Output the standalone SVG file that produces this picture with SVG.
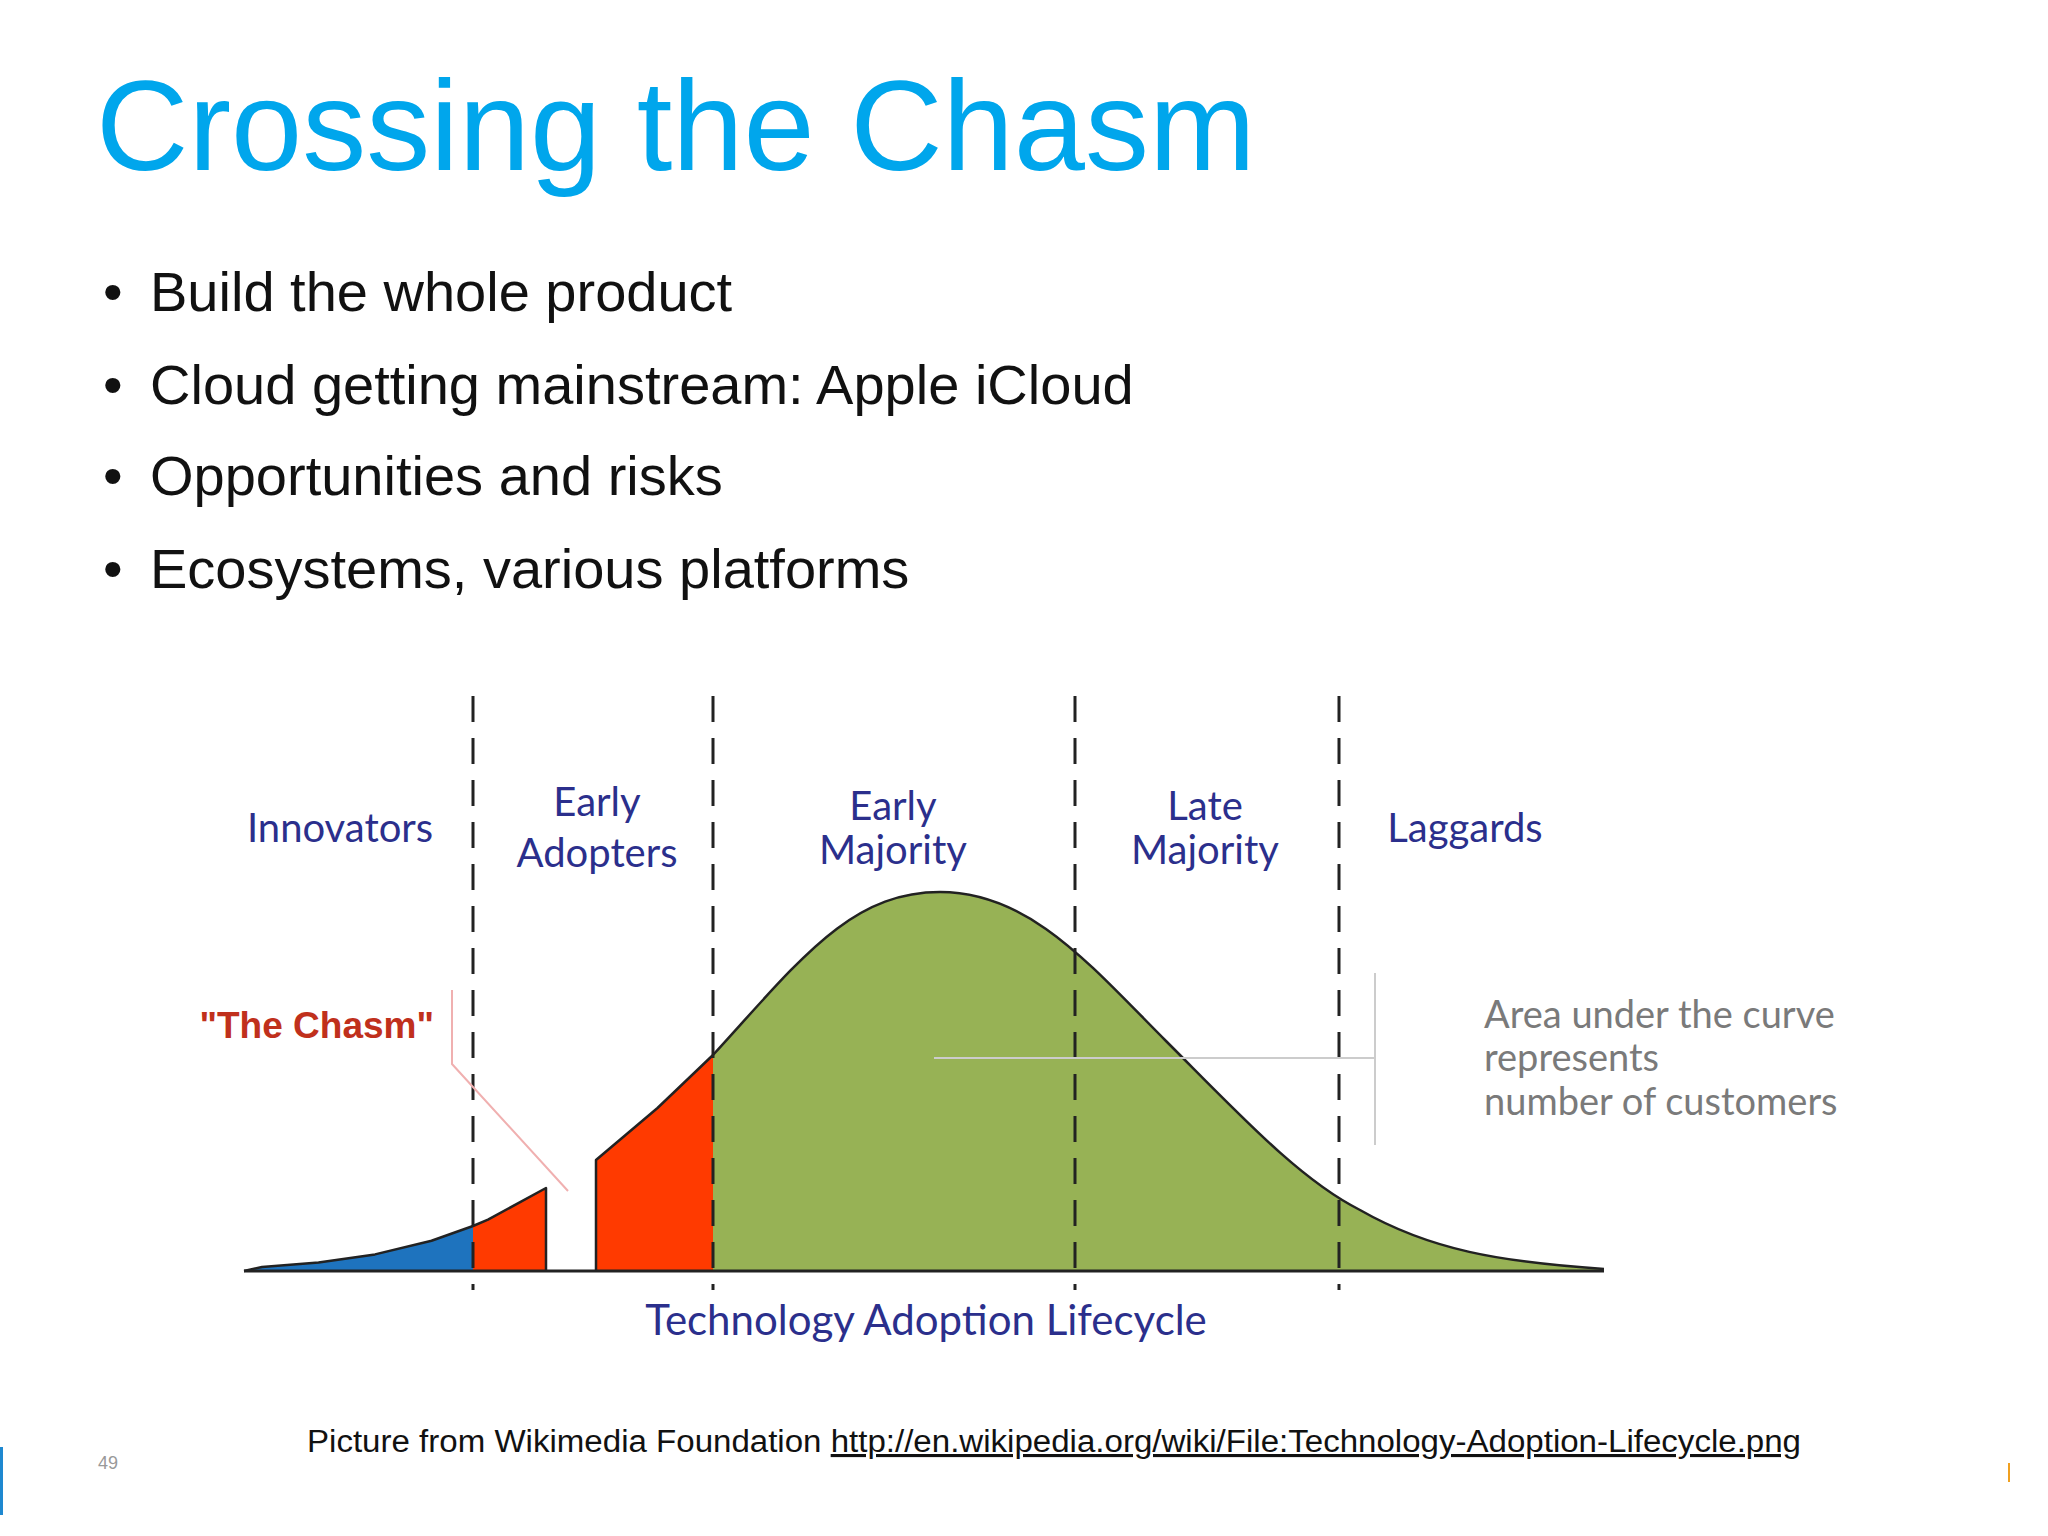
<svg xmlns="http://www.w3.org/2000/svg" width="2048" height="1536" viewBox="0 0 2048 1536">
<style>
.b{font-family:"Liberation Sans",Arial,sans-serif;font-size:56px;fill:#111}
.l{font-family:"Lato","Liberation Sans",sans-serif;font-size:40px;fill:#2b2f8c;text-anchor:middle}
.g{font-family:"Lato","Liberation Sans",sans-serif;font-size:38px;fill:#7a7a7a}
.d{stroke:#222;stroke-width:3;stroke-dasharray:26 16;fill:none}
</style>
<rect width="2048" height="1536" fill="#fff"/>
<text x="96" y="170" font-family="Liberation Sans,Arial,sans-serif" font-size="128" fill="#00a6ec">Crossing the Chasm</text>
<g class="b">
<text x="103" y="311">•</text><text x="150" y="311">Build the whole product</text>
<text x="103" y="404">•</text><text x="150" y="404">Cloud getting mainstream: Apple iCloud</text>
<text x="103" y="495">•</text><text x="150" y="495">Opportunities and risks</text>
<text x="103" y="588">•</text><text x="150" y="588">Ecosystems, various platforms</text>
</g>
<g id="chart">
<path d="M244,1271 L262,1267 L318.5,1262.4 L375,1254.4 L431.5,1240.8 L473,1226 L473,1271 Z" fill="#1e73be"/>
<path d="M473,1226 L488,1219.7 L546,1188 L546,1271 L473,1271 Z" fill="#ff3a00"/>
<path d="M596,1160 L657.5,1108 L713,1055 L713,1271 L596,1271 Z" fill="#ff3a00"/>
<path d="M713,1055 C800,960 850,892 940,892 C1030,892 1090,965 1166,1041 C1240,1115 1300,1180 1360,1210 C1430,1250 1500,1262 1604,1269 L1604,1271 L713,1271 Z" fill="#97b255"/>
<path d="M244,1271 L262,1267 L318.5,1262.4 L375,1254.4 L431.5,1240.8 L473,1226 L488,1219.7 L546,1188 L546,1271 M596,1271 L596,1160 L657.5,1108 L713,1055 C800,960 850,892 940,892 C1030,892 1090,965 1166,1041 C1240,1115 1300,1180 1360,1210 C1430,1250 1500,1262 1604,1269" fill="none" stroke="#222" stroke-width="2.5" stroke-linejoin="round"/>
<line x1="244" y1="1271" x2="1604" y2="1271" stroke="#222" stroke-width="3"/>
</g>
<g id="dividers">
<line class="d" x1="473" y1="696" x2="473" y2="1290"/>
<line class="d" x1="713" y1="696" x2="713" y2="1290"/>
<line class="d" x1="1075" y1="696" x2="1075" y2="1290"/>
<line class="d" x1="1339" y1="696" x2="1339" y2="1290"/>
</g>
<g id="labels" class="l">
<text x="340" y="842">Innovators</text>
<text x="597" y="816">Early</text><text x="597" y="867">Adopters</text>
<text x="893" y="820">Early</text><text x="893" y="864">Majority</text>
<text x="1205" y="820">Late</text><text x="1205" y="864">Majority</text>
<text x="1465" y="842">Laggards</text>
<text x="926" y="1335" font-size="42">Technology Adoption Lifecycle</text>
</g>
<text x="434" y="1038" text-anchor="end" font-family="Liberation Sans,Arial,sans-serif" font-weight="bold" font-size="37" fill="#c0301c">"The Chasm"</text>
<path d="M452,990 L452,1064 L568,1191" fill="none" stroke="#f0b0b0" stroke-width="2"/>
<g id="note" stroke="#ccc" stroke-width="2" fill="none">
<line x1="1375" y1="973" x2="1375" y2="1145"/>
<line x1="934" y1="1058" x2="1375" y2="1058"/>
</g>
<g class="g">
<text x="1484" y="1028">Area under the curve</text>
<text x="1484" y="1071">represents</text>
<text x="1484" y="1115">number of customers</text>
</g>
<text x="307" y="1452" font-family="Liberation Sans,Arial,sans-serif" font-size="31" fill="#111" textLength="1494" lengthAdjust="spacingAndGlyphs">Picture from Wikimedia Foundation <tspan text-decoration="underline">http://en.wikipedia.org/wiki/File:Technology-Adoption-Lifecycle.png</tspan></text>
<text x="98" y="1469" font-family="Liberation Sans,Arial,sans-serif" font-size="18" fill="#999">49</text>
<rect x="0" y="1447" width="3" height="68" fill="#1e88d0"/>
<rect x="2008" y="1463" width="2" height="19" fill="#f0a020"/>
</svg>
